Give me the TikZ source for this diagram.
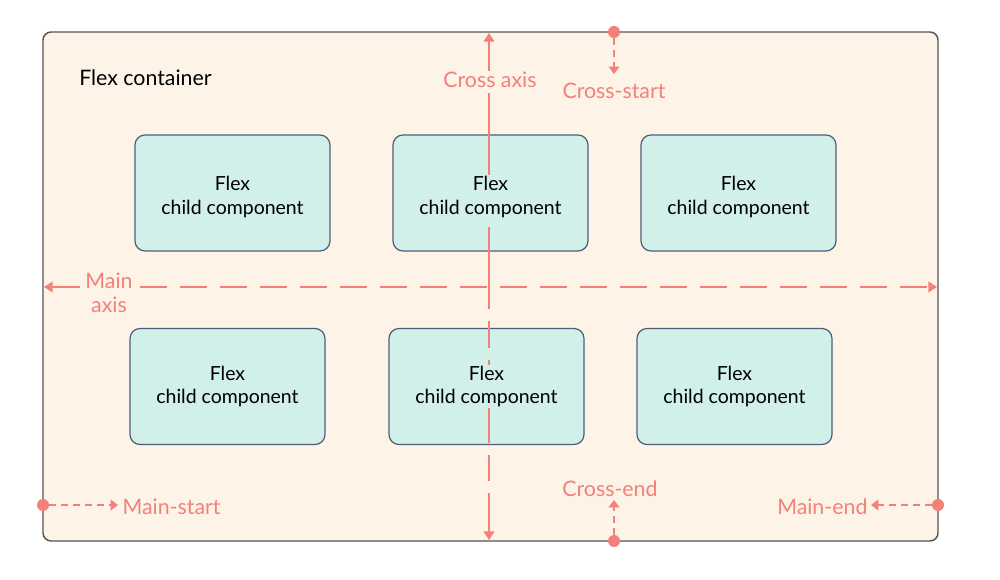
\documentclass[tikz,border=0pt]{standalone}
\usepackage{fontspec}
\setmainfont{Lato}
\usetikzlibrary{arrows.meta}
\definecolor{salmon}{HTML}{F4807A}
\definecolor{cream}{HTML}{FEF3E7}
\definecolor{mint}{HTML}{D0F0E9}
\definecolor{boxline}{HTML}{4E5D7A}
\definecolor{frame}{HTML}{555555}
\tikzset{
  container/.style={draw=frame, line width=1.1pt, fill=cream, rounded corners=6pt,
    minimum width=671.25pt, minimum height=381.75pt, inner sep=0pt},
  childbox/.style={draw=boxline, line width=0.9pt, fill=mint, rounded corners=7.5pt,
    minimum width=146.25pt, minimum height=87pt, inner sep=0pt},
  childtext/.style={fill=mint, align=center, font=\fontsize{14.6}{17.3}\selectfont,
    inner sep=1pt, text=black},
  axis/.style={draw=salmon, line width=1.9pt},
  axtip/.style={-{Triangle[length=6.5pt,width=8pt]}},
  small/.style={draw=salmon, line width=1.5pt, dash pattern=on 5pt off 4pt,
    -{Triangle[length=5.5pt,width=8pt]}},
  dot/.style={circle, fill=salmon, inner sep=0pt, minimum size=9pt},
  lab/.style={text=salmon, font=\fontsize{16}{18}\selectfont, inner sep=1pt},
}
\begin{document}
\begin{tikzpicture}[x=0.75pt,y=-0.75pt]
\useasboundingbox (0,0) rectangle (1000,580);
\fill[white] (0,0) rectangle (1000,580);
\node[container] (c) at (490.5,286.5) {};
\node[anchor=west, font=\fontsize{16}{18}\selectfont, inner sep=0pt] (title) at (79,78) {Flex container};

% child boxes
\node[childbox] (b1) at (232.5,193) {};
\node[childbox] (b2) at (490.5,193) {};
\node[childbox] (b3) at (738.5,193) {};
\node[childbox] (b4) at (227.5,386.5) {};
\node[childbox] (b5) at (486.5,386.5) {};
\node[childbox] (b6) at (734.5,386.5) {};

% cross axis
\coordinate (ctop) at (489,33);
\coordinate (cbot) at (489,540);
\node[lab] (crosslab) at (490,80) {Cross axis};
\draw[axis, axtip] (crosslab.north -| ctop) -- (ctop);
\draw[axis, axtip, dash pattern=on 62pt off 1pt on 0pt off 8pt on 20pt off 9pt] (crosslab.south -| ctop) ++(0,4) coordinate (cstart) -- (cbot);

% main axis
\coordinate (mleft) at (44,287);
\coordinate (mright) at (937,287);
\node[lab, align=center, font=\fontsize{16}{18}\selectfont] (mainlab) at (109,293) {Main\\axis};
\coordinate (mstart) at (80,287);
\coordinate (mcont) at (140,287);
\draw[axis, axtip] (mstart) -- (mleft);
\draw[axis, axtip, dash pattern=on 20pt off 10pt] (mcont) -- (mright);

% child texts (cover the axes)
\node[childtext] (t1) at ([yshift=-3pt]b1.center) {Flex\\child component};
\node[childtext] (t2) at ([yshift=-3pt]b2.center) {Flex\\child component};
\node[childtext] (t3) at ([yshift=-3pt]b3.center) {Flex\\child component};
\node[childtext] (t4) at (b4) {Flex\\child component};
\node[childtext] (t5) at (b5) {Flex\\child component};
\node[childtext] (t6) at (b6) {Flex\\child component};

% cross-start
\node[dot] (csdot) at (614,32) {};
\coordinate (csend) at (614,74);
\draw[small] (csdot) -- (csend);
\node[lab] (cslab) at (614,91) {Cross-start};

% cross-end
\node[dot] (cedot) at (614,541) {};
\coordinate (ceend) at (614,500);
\draw[small] (cedot) -- (ceend);
\node[lab] (celab) at (610,489) {Cross-end};

% main-start
\node[dot] (msdot) at (43,505) {};
\coordinate (msend) at (118,505);
\draw[small] (msdot) -- (msend);
\node[lab, anchor=west] (mslab) at (121,507) {Main-start};

% main-end
\node[dot] (medot) at (938,505) {};
\coordinate (meend) at (871,505);
\draw[small] (medot) -- (meend);
\node[lab, anchor=east] (melab) at (869,507) {Main-end};
\end{tikzpicture}
\end{document}
